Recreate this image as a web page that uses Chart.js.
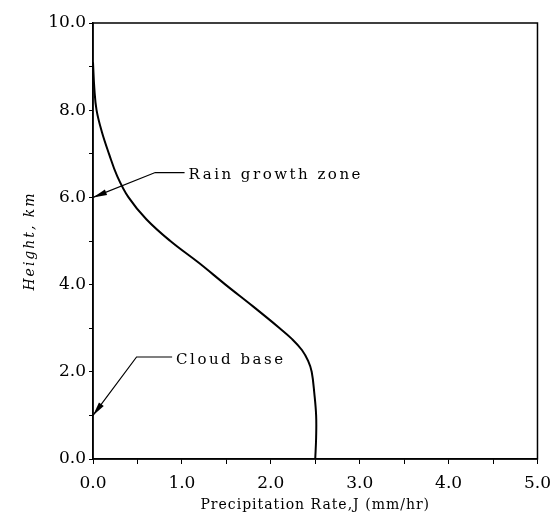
<!DOCTYPE html>
<html>
<head>
<meta charset="utf-8">
<script src="https://cdn.jsdelivr.net/npm/chart.js@4.4.1/dist/chart.umd.min.js"></script>
<style>
html,body{margin:0;padding:0;background:#fff;}
#wrap{width:560px;height:519px;position:relative;}
</style>
</head>
<body>
<div id="wrap"><canvas id="c" width="560" height="519"></canvas></div>
<script>
// Profile of precipitation rate vs height
const heights = [9.1, 8.5, 8.0, 7.5, 7.0, 6.5, 6.0, 5.5, 5.0, 4.5, 4.0, 3.5, 3.0, 2.75, 2.5, 2.25, 2.0, 1.5, 1.0, 0.5, 0.0];
const rates   = [0.0, 0.015, 0.04, 0.10, 0.18, 0.27, 0.40, 0.60, 0.87, 1.19, 1.49, 1.80, 2.10, 2.24, 2.35, 2.42, 2.46, 2.49, 2.51, 2.51, 2.50];
const xTickLabels = ['0.0','1.0','2.0','3.0','4.0','5.0'];
const yTickLabels = ['0.0','2.0','4.0','6.0','8.0','10.0'];
const xTitle = 'Precipitation Rate,J (mm/hr)';
const yTitle = 'Height, km';
// annotations: label, arrow tip (rate, height), elbow (rate, height), end of leader (rate)
const annLabels = ['Rain growth zone', 'Cloud base'];
const annTip    = [[0.0, 6.0], [0.0, 1.0]];
const annElbow  = [[0.70, 6.57], [0.49, 2.34]];
const annEnd    = [1.03, 0.89];

const FONT = '"DejaVu Serif", "Liberation Serif", serif';

const points = rates.map((r, i) => ({x: r, y: heights[i]}));

const decor = {
  id: 'decor',
  afterDraw(chart) {
    const ctx = chart.ctx, xs = chart.scales.x, ys = chart.scales.y, a = chart.chartArea;
    ctx.save();
    ctx.strokeStyle = '#000';
    ctx.lineWidth = 1.5;
    ctx.strokeRect(a.left, a.top, a.right - a.left, a.bottom - a.top);
    // annotations
    ctx.fillStyle = '#000';
    ctx.lineWidth = 1.2;
    for (let i = 0; i < annLabels.length; i++) {
      const tx = xs.getPixelForValue(annTip[i][0]), ty = ys.getPixelForValue(annTip[i][1]);
      const ex = xs.getPixelForValue(annElbow[i][0]), ey = ys.getPixelForValue(annElbow[i][1]);
      const fx = xs.getPixelForValue(annEnd[i]);
      ctx.beginPath();
      ctx.moveTo(fx, ey); ctx.lineTo(ex, ey); ctx.lineTo(tx, ty);
      ctx.stroke();
      // arrowhead
      const ang = Math.atan2(ty - ey, tx - ex);
      const L = 14, W = 3;
      const bx = tx - L * Math.cos(ang), by = ty - L * Math.sin(ang);
      ctx.beginPath();
      ctx.moveTo(tx, ty);
      ctx.lineTo(bx + W * Math.sin(ang), by - W * Math.cos(ang));
      ctx.lineTo(bx - W * Math.sin(ang), by + W * Math.cos(ang));
      ctx.closePath();
      ctx.fill();
      ctx.font = '15px ' + FONT;
      ctx.letterSpacing = '2.5px';
      ctx.textAlign = 'left';
      ctx.textBaseline = 'middle';
      ctx.fillText(annLabels[i], fx + 4, ey + 3);
    }
    // axis titles
    ctx.font = '14px ' + FONT;
    ctx.letterSpacing = '1px';
    ctx.textAlign = 'center';
    ctx.textBaseline = 'middle';
    ctx.fillText(xTitle, (a.left + a.right) / 2, 505);
    ctx.save();
    ctx.translate(30, (a.top + a.bottom) / 2);
    ctx.rotate(-Math.PI / 2);
    ctx.font = 'italic 14px ' + FONT;
    ctx.letterSpacing = '2px';
    ctx.fillText(yTitle, 0, 0);
    ctx.restore();
    ctx.restore();
  }
};

new Chart(document.getElementById('c'), {
  type: 'scatter',
  data: {
    datasets: [{
      data: points,
      showLine: true,
      tension: 0.4,
      borderColor: '#000',
      borderWidth: 2,
      pointRadius: 0,
      fill: false
    }]
  },
  options: {
    responsive: false,
    animation: false,
    layout: {padding: {top: 23, right: 21, left: 0, bottom: 0}},
    plugins: {legend: {display: false}, tooltip: {enabled: false}},
    scales: {
      x: {
        type: 'linear', min: 0, max: 5,
        afterFit(s) { s.height = 60; },
        afterBuildTicks(s) { s.ticks = Array.from({length: 11}, (_, i) => ({value: i * 0.5})); },
        border: {display: true, color: '#000', width: 1.5},
        grid: {drawOnChartArea: false, drawTicks: true, tickLength: 5, color: '#000', lineWidth: 1},
        ticks: {
          color: '#000', font: {family: FONT, size: 17}, padding: 9, maxRotation: 0, autoSkip: false,
          callback(v) { const k = Math.round(v * 2); return k % 2 === 0 ? xTickLabels[k / 2] : ''; }
        }
      },
      y: {
        type: 'linear', min: 0, max: 10,
        afterFit(s) { s.width = 93; },
        afterBuildTicks(s) { s.ticks = Array.from({length: 11}, (_, i) => ({value: i})); },
        border: {display: true, color: '#000', width: 1.5},
        grid: {drawOnChartArea: false, drawTicks: true, tickLength: 4, color: '#000', lineWidth: 1},
        ticks: {
          color: '#000', font: {family: FONT, size: 17}, padding: 3, autoSkip: false,
          callback(v) { return v % 2 === 0 ? yTickLabels[v / 2] : ''; }
        }
      }
    }
  },
  plugins: [decor]
});
</script>
</body>
</html>
